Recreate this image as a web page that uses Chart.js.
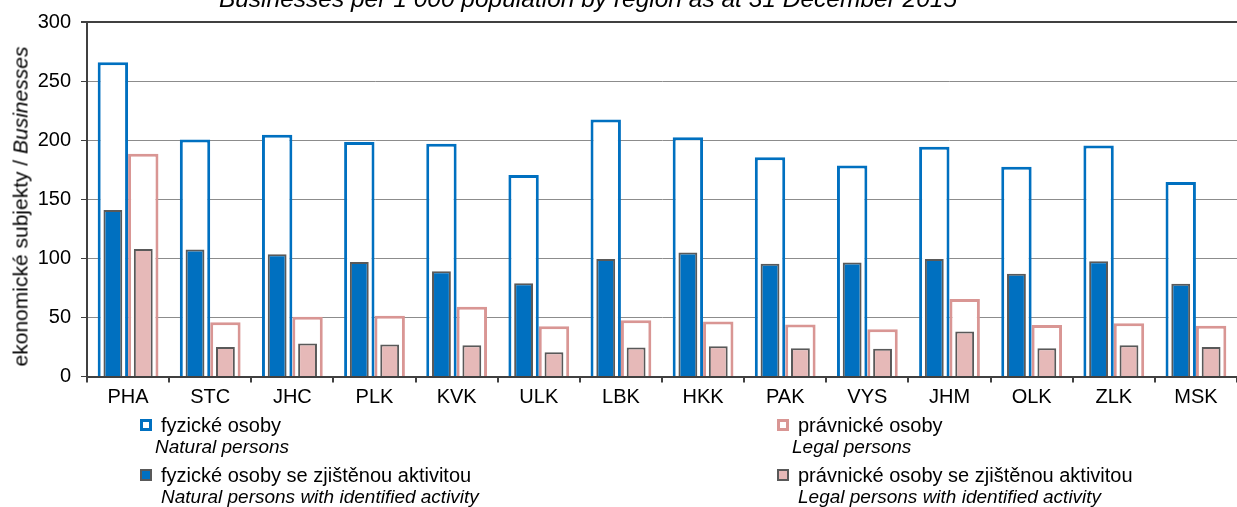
<!DOCTYPE html>
<html>
<head>
<meta charset="utf-8">
<script src="https://cdn.jsdelivr.net/npm/chart.js@4/dist/chart.umd.min.js"></script>
<style>
  body{margin:0;background:#fff;font-family:"Liberation Sans",Arial,sans-serif;}
  #wrap{position:relative;width:1237px;height:507px;overflow:hidden;}
  canvas{position:absolute;left:0;top:0;}
  .t{position:absolute;white-space:nowrap;font-size:20px;line-height:20px;color:#000;}
  .i{font-style:italic;font-size:19px;line-height:19px;}
  .mk{position:absolute;width:12px;height:12px;box-sizing:border-box;}
  #ytl{position:absolute;width:400px;text-align:center;font-size:21px;line-height:21px;transform:rotate(-90deg);transform-origin:center;white-space:nowrap;}
</style>
</head>
<body>
<div id="wrap">
  <canvas id="c" width="1237" height="507"></canvas>
  <div class="t" id="ttl" style="left:0;width:1176px;text-align:center;top:-13px;font-size:24.5px;line-height:24px;font-style:italic;">Businesses per 1 000 population by region as at 31 December 2015</div>
  <div id="ytl" style="left:-180px;top:196px;">ekonomické subjekty / <i>Businesses</i></div>

  <div class="mk" style="left:140px;top:419px;border:3px solid #0070C0;background:#fff;"></div>
  <div class="t" style="left:161px;top:415px;">fyzické osoby</div>
  <div class="t i" style="left:155px;top:437px;">Natural persons</div>
  <div class="mk" style="left:140px;top:469px;border:2px solid #595959;background:#0070C0;"></div>
  <div class="t" style="left:161px;top:465px;">fyzické osoby se zjištěnou aktivitou</div>
  <div class="t i" style="left:161px;top:487px;">Natural persons with identified activity</div>

  <div class="mk" style="left:777px;top:419px;border:3px solid #D99694;background:#fff;"></div>
  <div class="t" style="left:798px;top:415px;">právnické osoby</div>
  <div class="t i" style="left:792px;top:437px;">Legal persons</div>
  <div class="mk" style="left:777px;top:469px;border:2px solid #595959;background:#E6B9B8;"></div>
  <div class="t" style="left:798px;top:465px;">právnické osoby se zjištěnou aktivitou</div>
  <div class="t i" style="left:798px;top:487px;">Legal persons with identified activity</div>
</div>
<script>
// Data – ekonomické subjekty na 1 000 obyvatel podle krajů, 31. 12. 2015
const regions = ['PHA','STC','JHC','PLK','KVK','ULK','LBK','HKK','PAK','VYS','JHM','OLK','ZLK','MSK'];
const natural       = [266,200.5,204.5,198.5,197,170.5,217.5,202.5,185.5,178.5,194.5,177.5,195.5,164.5];
const naturalActive = [141,107.5,103.5,97,89,79,99.5,105,95.5,96.5,99.5,87,97.5,78.5];
const legal         = [188.5,46,50.5,51.5,59,42.5,47.5,46.5,44,40,65.5,43.5,45,43];
const legalActive   = [108,25,28,27,26.5,20.5,24.5,25.5,24,23.5,38,24,26.5,25];
const yTicks = [0,50,100,150,200,250,300];

const FONT = '"Liberation Sans", Arial, sans-serif';
const AXIS = '#404040';
const GRID = '#8c8c8c';
const CAT = 0.74;

// bars sharing a stack id share one slot; y is not stacked so they overlap from 0
new Chart(document.getElementById('c'), {
  type: 'bar',
  data: {
    labels: regions,
    datasets: [
      {label:'fyzické osoby se zjištěnou aktivitou', data:naturalActive, stack:'n',
       backgroundColor:'#0070C0', borderColor:'#595959', borderWidth:2,
       barPercentage:0.62, categoryPercentage:CAT},
      {label:'právnické osoby se zjištěnou aktivitou', data:legalActive, stack:'l',
       backgroundColor:'#E6B9B8', borderColor:'#595959', borderWidth:2,
       barPercentage:0.62, categoryPercentage:CAT},
      {label:'fyzické osoby', data:natural, stack:'n',
       backgroundColor:'#fff', borderColor:'#0070C0', borderWidth:3,
       barPercentage:1, categoryPercentage:CAT},
      {label:'právnické osoby', data:legal, stack:'l',
       backgroundColor:'#fff', borderColor:'#D99694', borderWidth:3,
       barPercentage:1, categoryPercentage:CAT}
    ]
  },
  options: {
    responsive:false, animation:false, devicePixelRatio:1,
    layout:{padding:{top:22,left:0,right:0,bottom:0}},
    plugins:{legend:{display:false}, tooltip:{enabled:false}, title:{display:false}},
    scales:{
      x:{
        type:'category', offset:true,
        grid:{drawOnChartArea:false, drawTicks:true, tickLength:6, color:AXIS, lineWidth:2},
        border:{color:AXIS, width:2},
        ticks:{color:'#000', font:{family:FONT, size:20}, padding:3, maxRotation:0, autoSkip:false},
        afterFit:s=>{ s.height = 130.5; }
      },
      y:{
        min:0, max:300, stacked:false,
        afterBuildTicks:s=>{ s.ticks = yTicks.map(v=>({value:v})); },
        grid:{
          color:c=>c.tick && c.tick.value===300 ? AXIS : GRID,
          lineWidth:c=>c.tick && c.tick.value===300 ? 2 : 1,
          tickLength:6, tickColor:AXIS
        },
        border:{color:AXIS, width:2},
        ticks:{color:'#000', font:{family:FONT, size:20}, padding:10},
        afterFit:s=>{ s.width = 87; }
      }
    }
  }
});
</script>
</body>
</html>
